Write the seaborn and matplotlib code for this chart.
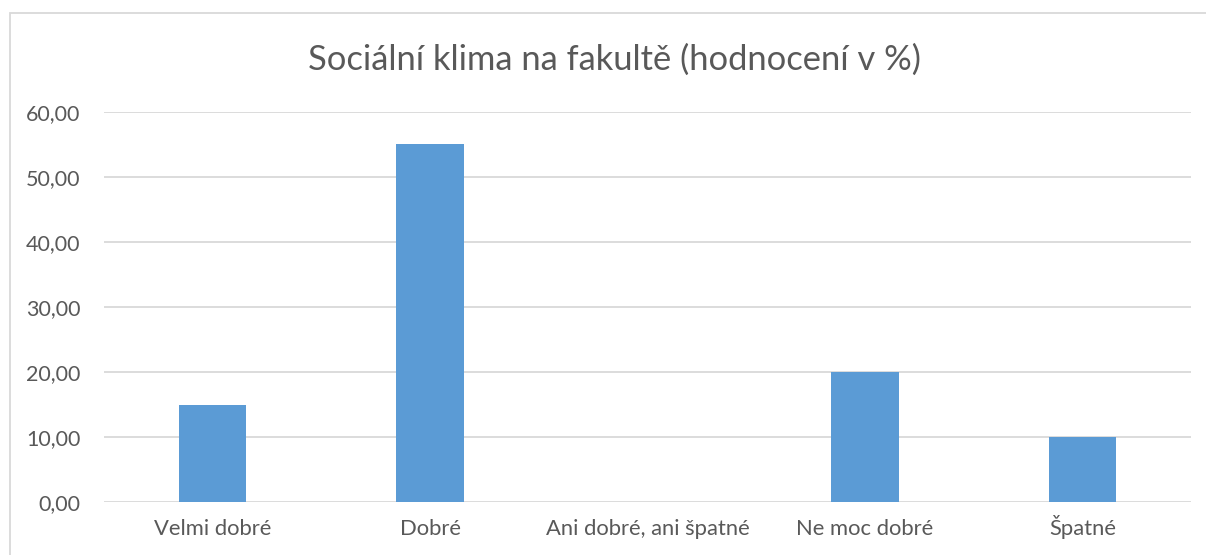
import matplotlib
matplotlib.use("Agg")
import matplotlib.pyplot as plt
import matplotlib.patches as mpatches
from matplotlib.ticker import FuncFormatter, MultipleLocator
import pandas as pd
import seaborn as sns

categories = ["Velmi dobré", "Dobré", "Ani dobré, ani špatné", "Ne moc dobré", "Špatné"]
values = [15, 55, 0, 20, 10]
title = "Sociální klima na fakultě (hodnocení v %)"

sns.set_theme(style="white")
plt.rcParams['font.family'] = ['Lato', 'DejaVu Sans']

text_color = "#595959"
grid_color = "#D9D9D9"

data = pd.DataFrame({"kategorie": categories, "hodnota": values})

fig = plt.figure(figsize=(12.06, 5.55), dpi=100)
ax = fig.add_axes([104 / 1206, 1 - 502 / 555, (1191 - 104) / 1206, (502 - 112) / 555])

sns.barplot(data=data, x="kategorie", y="hodnota", color="#5B9BD5",
            width=0.31, saturation=1, linewidth=0, ax=ax, zorder=3)

ax.set_ylim(0, 60)
ax.set_xlim(-0.5, len(categories) - 0.5)
ax.yaxis.set_major_locator(MultipleLocator(10))
ax.yaxis.set_major_formatter(FuncFormatter(lambda v, _: f"{v:.2f}".replace(".", ",")))
ax.grid(axis="y", color=grid_color, linewidth=1.3, zorder=0)
ax.set_axisbelow(True)
for s in ax.spines.values():
    s.set_visible(False)
ax.tick_params(axis="y", length=0, labelsize=15.5, colors=text_color, pad=17)
ax.tick_params(axis="x", length=0, labelsize=15.8, colors=text_color, pad=23.5)
for lbl in ax.get_xticklabels():
    lbl.set_verticalalignment("baseline")
ax.set_xlabel("")
ax.set_ylabel("")

fig.text(614 / 1206, 1 - 60 / 555, title, ha="center", va="center",
         fontsize=24.8, color=text_color)

# chart frame
frame = mpatches.Rectangle((10 / 1206, -0.1), 1.2, 1 - 13 / 555 + 0.1,
                           transform=fig.transFigure, fill=False,
                           edgecolor=grid_color, linewidth=1.3)
fig.patches.append(frame)

fig.savefig("out.png", dpi=100)
